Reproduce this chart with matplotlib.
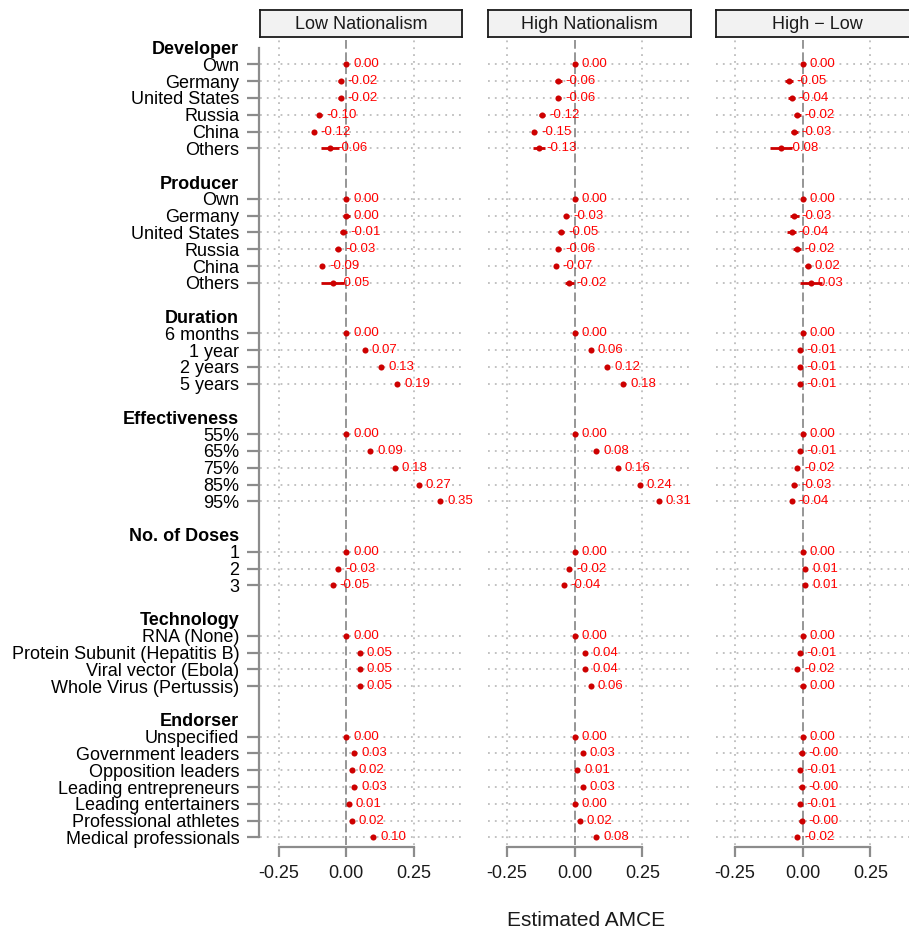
import numpy as np
import matplotlib
matplotlib.use("Agg")
import matplotlib.pyplot as plt

plt.rcParams['font.family'] = ['Liberation Sans', 'DejaVu Sans']

# ===== attributes and levels =====
groups = ["Developer", "Producer", "Duration", "Effectiveness",
          "No. of Doses", "Technology", "Endorser"]
levels = [
    ["Own", "Germany", "United States", "Russia", "China", "Others"],
    ["Own", "Germany", "United States", "Russia", "China", "Others"],
    ["6 months", "1 year", "2 years", "5 years"],
    ["55%", "65%", "75%", "85%", "95%"],
    ["1", "2", "3"],
    ["RNA (None)", "Protein Subunit (Hepatitis B)", "Viral vector (Ebola)",
     "Whole Virus (Pertussis)"],
    ["Unspecified", "Government leaders", "Opposition leaders",
     "Leading entrepreneurs", "Leading entertainers", "Professional athletes",
     "Medical professionals"],
]

panel_titles = ["Low Nationalism", "High Nationalism", "High \u2212 Low"]

# AMCE estimates (flat, same order as levels)
amce_low = [0.00, -0.02, -0.02, -0.10, -0.12, -0.06,
            0.00, 0.00, -0.01, -0.03, -0.09, -0.05,
            0.00, 0.07, 0.13, 0.19,
            0.00, 0.09, 0.18, 0.27, 0.35,
            0.00, -0.03, -0.05,
            0.00, 0.05, 0.05, 0.05,
            0.00, 0.03, 0.02, 0.03, 0.01, 0.02, 0.10]
amce_high = [0.00, -0.06, -0.06, -0.12, -0.15, -0.13,
             0.00, -0.03, -0.05, -0.06, -0.07, -0.02,
             0.00, 0.06, 0.12, 0.18,
             0.00, 0.08, 0.16, 0.24, 0.31,
             0.00, -0.02, -0.04,
             0.00, 0.04, 0.04, 0.06,
             0.00, 0.03, 0.01, 0.03, 0.00, 0.02, 0.08]
amce_diff = [0.00, -0.05, -0.04, -0.02, -0.03, -0.08,
             0.00, -0.03, -0.04, -0.02, 0.02, 0.03,
             0.00, -0.01, -0.01, -0.01,
             0.00, -0.01, -0.02, -0.03, -0.04,
             0.00, 0.01, 0.01,
             0.00, -0.01, -0.02, 0.00,
             0.00, -0.004, -0.01, -0.004, -0.01, -0.004, -0.02]

# half width of the confidence intervals
ci_low = [0, .010, .010, .010, .008, .035,
          0, .013, .012, .012, .005, .042,
          0, .005, .005, .005,
          0, .006, .006, .006, .006,
          0, .005, .005,
          0, .006, .006, .006,
          0, .006, .006, .006, .006, .006, .006]
ci_high = [0, .012, .010, .012, .008, .022,
           0, .010, .012, .010, .006, .017,
           0, .005, .005, .005,
           0, .006, .006, .006, .006,
           0, .005, .005,
           0, .006, .006, .006,
           0, .006, .006, .006, .006, .006, .006]
ci_diff = [0, .015, .013, .013, .012, .042,
           0, .015, .017, .015, .010, .040,
           0, .007, .007, .007,
           0, .008, .008, .008, .008,
           0, .007, .007,
           0, .008, .008, .008,
           0, .008, .008, .008, .008, .008, .008]

# ===== row layout: header row, level rows, blank row between groups =====
tick_rows = []
tick_labels = []
tick_is_header = []
level_rows = []
r = 0
for g, lv in zip(groups, levels):
    tick_rows.append(r); tick_labels.append(g); tick_is_header.append(True)
    r += 1
    for name in lv:
        tick_rows.append(r); tick_labels.append(name); tick_is_header.append(False)
        level_rows.append(r)
        r += 1
    r += 1
last_row = r - 2
level_rows = np.array(level_rows)

# ===== figure =====
W, H = 909, 934
fig = plt.figure(figsize=(W / 100, H / 100), dpi=100)

panel_x = [(260, 462), (488, 691), (716, 919)]
p_top, p_bot = 40, 845
strip_top, strip_bot = 10, 37

pt_col = '#CD0000'
txt_col = '#FF0000'
axis_gray = '#8C8C8C'
grid_gray = '#BDBDBD'

panels = [(amce_low, ci_low), (amce_high, ci_high), (amce_diff, ci_diff)]

for k, ((x0, x1), title, (est, hw)) in enumerate(zip(panel_x, panel_titles, panels)):
    est = np.array(est)
    hw = np.array(hw)
    ax = fig.add_axes([x0 / W, 1 - p_bot / H, (x1 - x0) / W, (p_bot - p_top) / H])
    ax.set_xlim(-0.32, 0.43)
    ax.set_ylim(last_row + 0.45, -0.45)

    # dotted grid
    for yr in level_rows:
        ax.axhline(yr, color=grid_gray, lw=1.3, ls=(0, (1, 2.8)), zorder=0)
    for xv in (-0.25, 0.25):
        ax.axvline(xv, color=grid_gray, lw=1.3, ls=(0, (1, 2.8)), zorder=0)
    ax.axvline(0, color='#8E8E8E', lw=1.3, ls=(0, (5, 2)), zorder=1)

    # value labels sit under the interval lines
    for v, yr in zip(est, level_rows):
        ax.annotate(f"{v:.2f}", (v, yr), xytext=(5, 0), textcoords='offset points',
                    va='center', ha='left', color=txt_col, fontsize=9.5, zorder=2)

    ax.hlines(level_rows, est - hw, est + hw, color=pt_col, lw=2.0, zorder=3)
    ax.plot(est, level_rows, 'o', color=pt_col, ms=4.4, mew=0, zorder=4)

    for s in ('top', 'right'):
        ax.spines[s].set_visible(False)
    ax.spines['bottom'].set_bounds(-0.25, 0.25)
    ax.spines['bottom'].set_position(('outward', 1.5))
    ax.spines['bottom'].set_color(axis_gray)
    ax.spines['bottom'].set_linewidth(1.6)
    ax.set_xticks([-0.25, 0, 0.25])
    ax.set_xticklabels(["-0.25", "0.00", "0.25"])
    ax.tick_params(axis='x', length=7, width=1.6, color=axis_gray, labelsize=13,
                   pad=6, labelcolor='#1A1A1A')

    if k == 0:
        ax.spines['left'].set_bounds(0, last_row)
        ax.spines['left'].set_position(('outward', 1))
        ax.spines['left'].set_color(axis_gray)
        ax.spines['left'].set_linewidth(1.6)
        ax.set_yticks(tick_rows)
        ax.set_yticklabels(tick_labels)
        ax.tick_params(axis='y', length=9, width=1.6, color=axis_gray, labelsize=13,
                       pad=5, labelcolor='black')
        for t, lab, is_h in zip(ax.yaxis.get_major_ticks(), ax.get_yticklabels(),
                                tick_is_header):
            if is_h:
                t.tick1line.set_visible(False)
                lab.set_fontweight('bold')
    else:
        ax.spines['left'].set_visible(False)
        ax.set_yticks([])

    # facet strip
    sx = fig.add_axes([x0 / W, 1 - strip_bot / H, (x1 - x0) / W, (strip_bot - strip_top) / H])
    sx.set_facecolor('#F2F2F2')
    sx.set_xticks([])
    sx.set_yticks([])
    for s in sx.spines.values():
        s.set_color('#1A1A1A')
        s.set_linewidth(1.3)
    sx.text(0.5, 0.48, title, ha='center', va='center', fontsize=13,
            color='#1A1A1A', transform=sx.transAxes)

fig.text(586 / W, 1 - 920 / H, "Estimated AMCE", ha='center', va='center',
         fontsize=15, color='#1A1A1A')

fig.savefig("out.png", dpi=100)
